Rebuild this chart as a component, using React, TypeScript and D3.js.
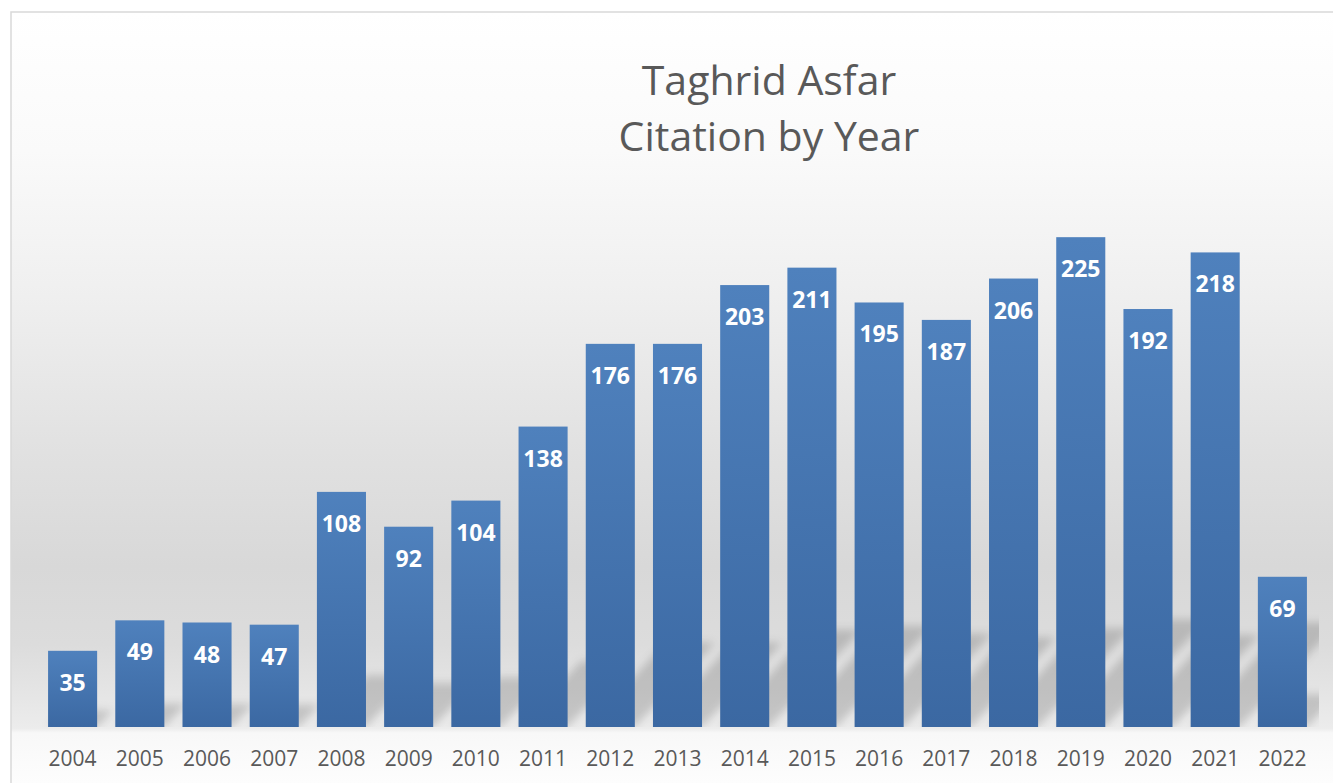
import React from 'react';
import * as d3 from 'd3';

const years = ['2004', '2005', '2006', '2007', '2008', '2009', '2010', '2011', '2012', '2013',
  '2014', '2015', '2016', '2017', '2018', '2019', '2020', '2021', '2022'];
const citations = [35, 49, 48, 47, 108, 92, 104, 138, 176, 176, 203, 211, 195, 187, 206, 225, 192, 218, 69];
const titleLines = ['Taghrid Asfar', 'Citation by Year'];

const W = 1333;
const H = 783;
const FONT = "'Open Sans', 'Liberation Sans', sans-serif";

export default function App() {
  const baseline = 727;
  const x = d3.scaleBand<string>()
    .domain(years)
    .range([39, 1316])
    .paddingInner(0.27)
    .paddingOuter(0.135);
  const y = d3.scaleLinear().domain([0, 250]).range([baseline, baseline - 250 * 2.177]);

  const data = years.map((yr, i) => ({ year: yr, value: citations[i] }));

  // perspective shadow behind each bar
  const shadowPath = (d: { year: string; value: number }) => {
    const x0 = x(d.year) ?? 0;
    const x1 = x0 + x.bandwidth();
    const h = baseline - y(d.value);
    const hs = h * 0.22;
    const dx = hs * 0.95;
    return `M${x0},${baseline}L${x1},${baseline}L${x1 + dx},${baseline - hs}L${x0 + dx},${baseline - hs}Z`;
  };

  return (
    <div style={{ position: 'absolute', left: 0, top: 0 }}>
      <svg width={W} height={H} style={{ display: 'block' }}>
        <defs>
          <linearGradient id="bg" x1="0" y1="12" x2="0" y2={H} gradientUnits="userSpaceOnUse">
            <stop offset="0" stopColor="#ffffff" />
            <stop offset="0.18" stopColor="#fafafa" />
            <stop offset="0.37" stopColor="#efefef" />
            <stop offset="0.57" stopColor="#e1e1e1" />
            <stop offset="0.72" stopColor="#d8d8d8" />
            <stop offset="0.82" stopColor="#dcdcdc" />
            <stop offset="0.89" stopColor="#e6e6e6" />
            <stop offset="0.929" stopColor="#ececec" />
            <stop offset="0.935" stopColor="#f8f8f8" />
            <stop offset="1" stopColor="#fdfdfd" />
          </linearGradient>
          <linearGradient id="bar" x1="0" y1="0" x2="0" y2="1">
            <stop offset="0" stopColor="#4f81bd" />
            <stop offset="1" stopColor="#3b68a2" />
          </linearGradient>
          <filter id="blur" x="-50%" y="-50%" width="200%" height="200%">
            <feGaussianBlur stdDeviation="4" />
          </filter>
          <clipPath id="plotClip">
            <rect x={12} y={150} width={1307} height={baseline - 150} />
          </clipPath>
        </defs>

        <rect x={11} y={12} width={W} height={H} fill="url(#bg)" stroke="#d9d9d9" strokeWidth={1.5} />

        {titleLines.map((t, i) => (
          <text key={t} x={769} y={95 + i * 56} textAnchor="middle" fontFamily={FONT}
            fontSize={41} fill="#595959">{t}</text>
        ))}

        <g clipPath="url(#plotClip)">
          <g filter="url(#blur)">
            {data.map(d => (
              <path key={`s${d.year}`} d={shadowPath(d)} fill="#000" fillOpacity={0.16} />
            ))}
          </g>
        </g>

        {data.map(d => (
          <rect key={d.year} x={x(d.year)} y={y(d.value)} width={x.bandwidth()}
            height={baseline - y(d.value)} fill="url(#bar)" />
        ))}

        {data.map(d => (
          <text key={`v${d.year}`} x={(x(d.year) ?? 0) + x.bandwidth() / 2} y={y(d.value) + 40}
            textAnchor="middle" fontFamily={FONT} fontWeight="bold" fontSize={23} fill="#ffffff">
            {d.value}
          </text>
        ))}

        {years.map(yr => (
          <text key={`x${yr}`} x={(x(yr) ?? 0) + x.bandwidth() / 2} y={765.5}
            textAnchor="middle" fontFamily={FONT} fontSize={21} fill="#595959">{yr}</text>
        ))}
      </svg>
    </div>
  );
}
